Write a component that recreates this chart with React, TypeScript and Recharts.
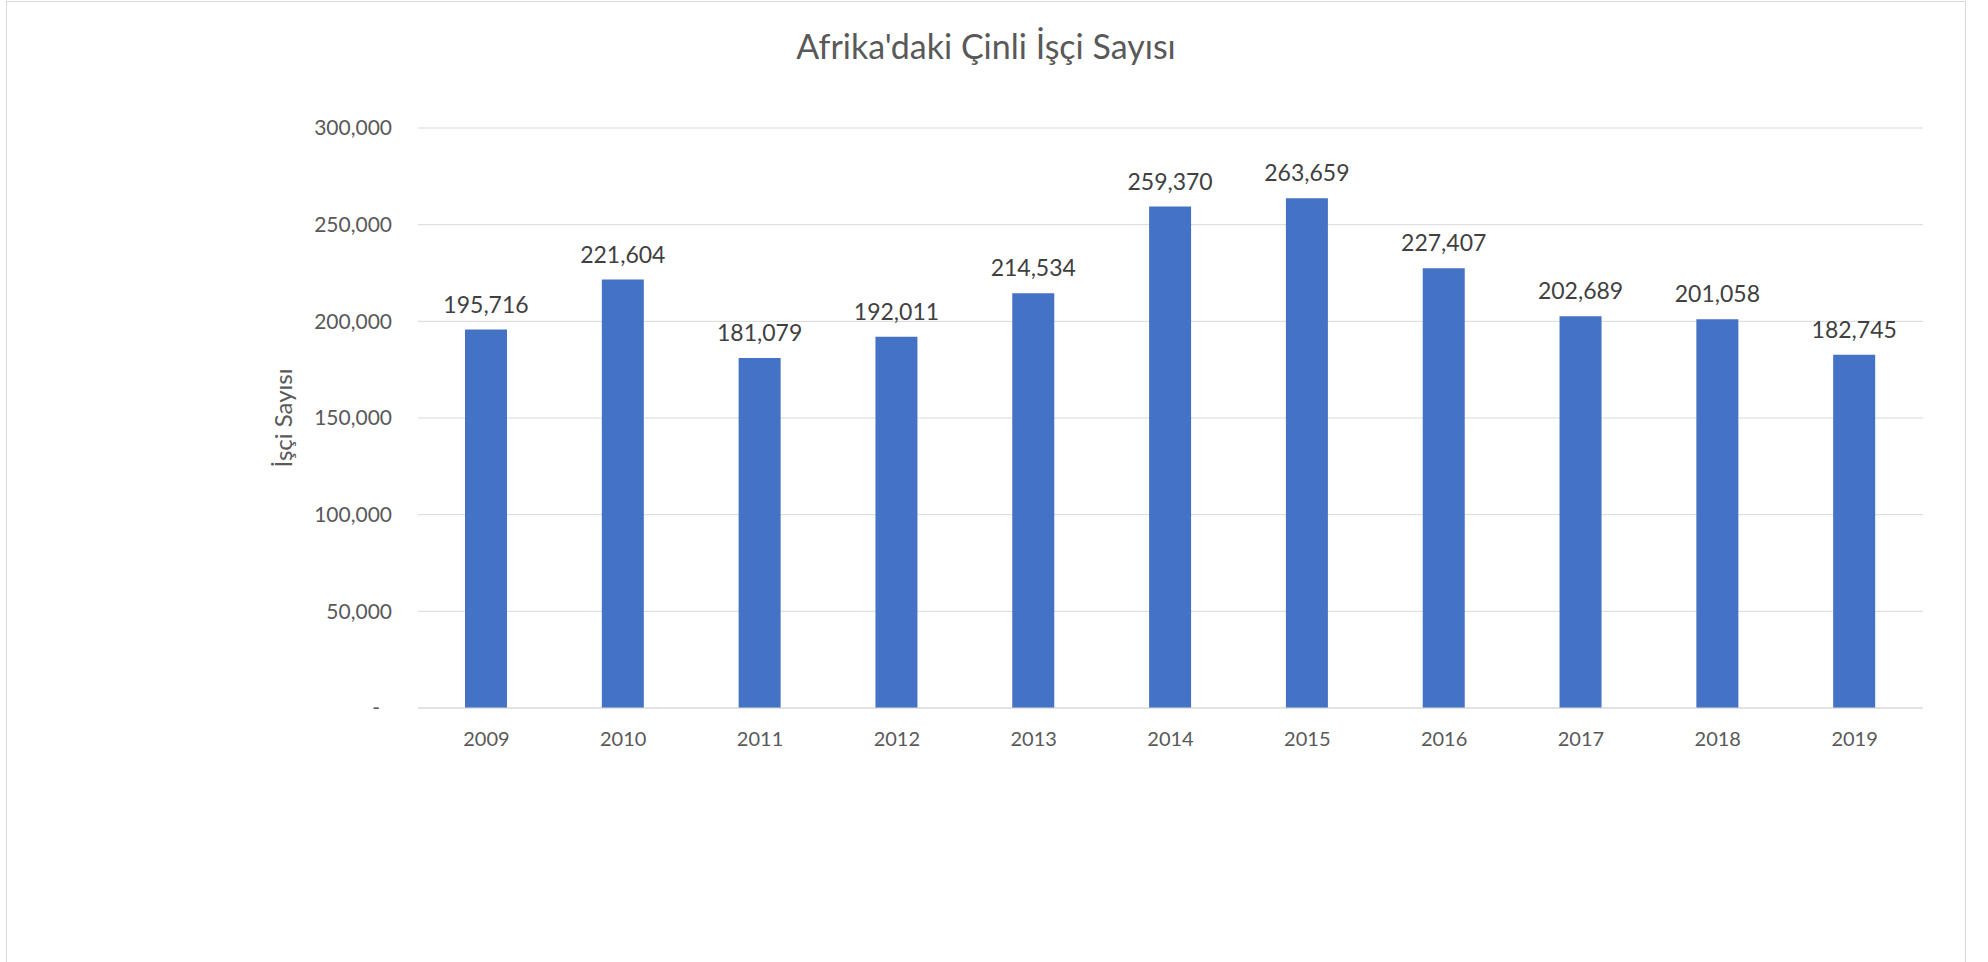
import React from 'react'
import { BarChart, Bar, XAxis, YAxis, CartesianGrid, LabelList } from 'recharts'

const YEARS = ['2009', '2010', '2011', '2012', '2013', '2014', '2015', '2016', '2017', '2018', '2019']
const WORKERS = [195716, 221604, 181079, 192011, 214534, 259370, 263659, 227407, 202689, 201058, 182745]
const Y_TICKS = [0, 50000, 100000, 150000, 200000, 250000, 300000]

const data = YEARS.map((year, i) => ({ year, workers: WORKERS[i] }))

const FONT = 'Lato, "Open Sans", sans-serif'
const fmt = (v: number) => v.toLocaleString('en-US')

function YTick(props: any) {
  const { x, y, payload } = props
  const v = payload.value as number
  return (
    <text x={v === 0 ? x - 12 : x} y={y} dy="0.35em" textAnchor="end" fontSize={21} fill="#595959" fontFamily={FONT}>
      {v === 0 ? '-' : fmt(v)}
    </text>
  )
}

export default function App() {
  return (
    <div style={{ position: 'absolute', left: 0, top: 0, width: 1988, height: 962, background: '#fff', fontFamily: FONT }}>
      <div style={{ position: 'absolute', left: 6, top: 1, width: 1958, height: 960, border: '1px solid #d9d9d9', boxSizing: 'content-box' }} />
      <div style={{ position: 'absolute', left: 6, top: 26, width: 1960, textAlign: 'center', fontSize: 34, color: '#595959', lineHeight: '40px' }}>
        Afrika'daki Çinli İşçi Sayısı
      </div>
      <div style={{ position: 'absolute', left: 0, top: 0 }}>
        <BarChart width={1988} height={962} data={data} margin={{ top: 128, right: 65, bottom: 224, left: 148 }}>
          <CartesianGrid vertical={false} stroke="#d9d9d9" />
          <XAxis
            dataKey="year"
            height={30}
            axisLine={{ stroke: '#d9d9d9' }}
            tickLine={false}
            tickSize={0}
            tickMargin={24}
            tick={{ fontSize: 20, fill: '#595959', fontFamily: FONT }}
          />
          <YAxis
            width={270}
            domain={[0, 300000]}
            ticks={Y_TICKS}
            axisLine={false}
            tickLine={false}
            tickSize={0}
            tickMargin={26}
            tick={<YTick />}
            label={{ value: 'İşçi Sayısı', angle: -90, position: 'center', fontSize: 24, fill: '#595959', fontFamily: FONT }}
          />
          <Bar dataKey="workers" fill="#4472c4" barSize={42} isAnimationActive={false}>
            <LabelList dataKey="workers" position="top" offset={17} formatter={(v: any) => fmt(Number(v))} fontSize={23} fill="#404040" fontFamily={FONT} />
          </Bar>
        </BarChart>
      </div>
    </div>
  )
}
